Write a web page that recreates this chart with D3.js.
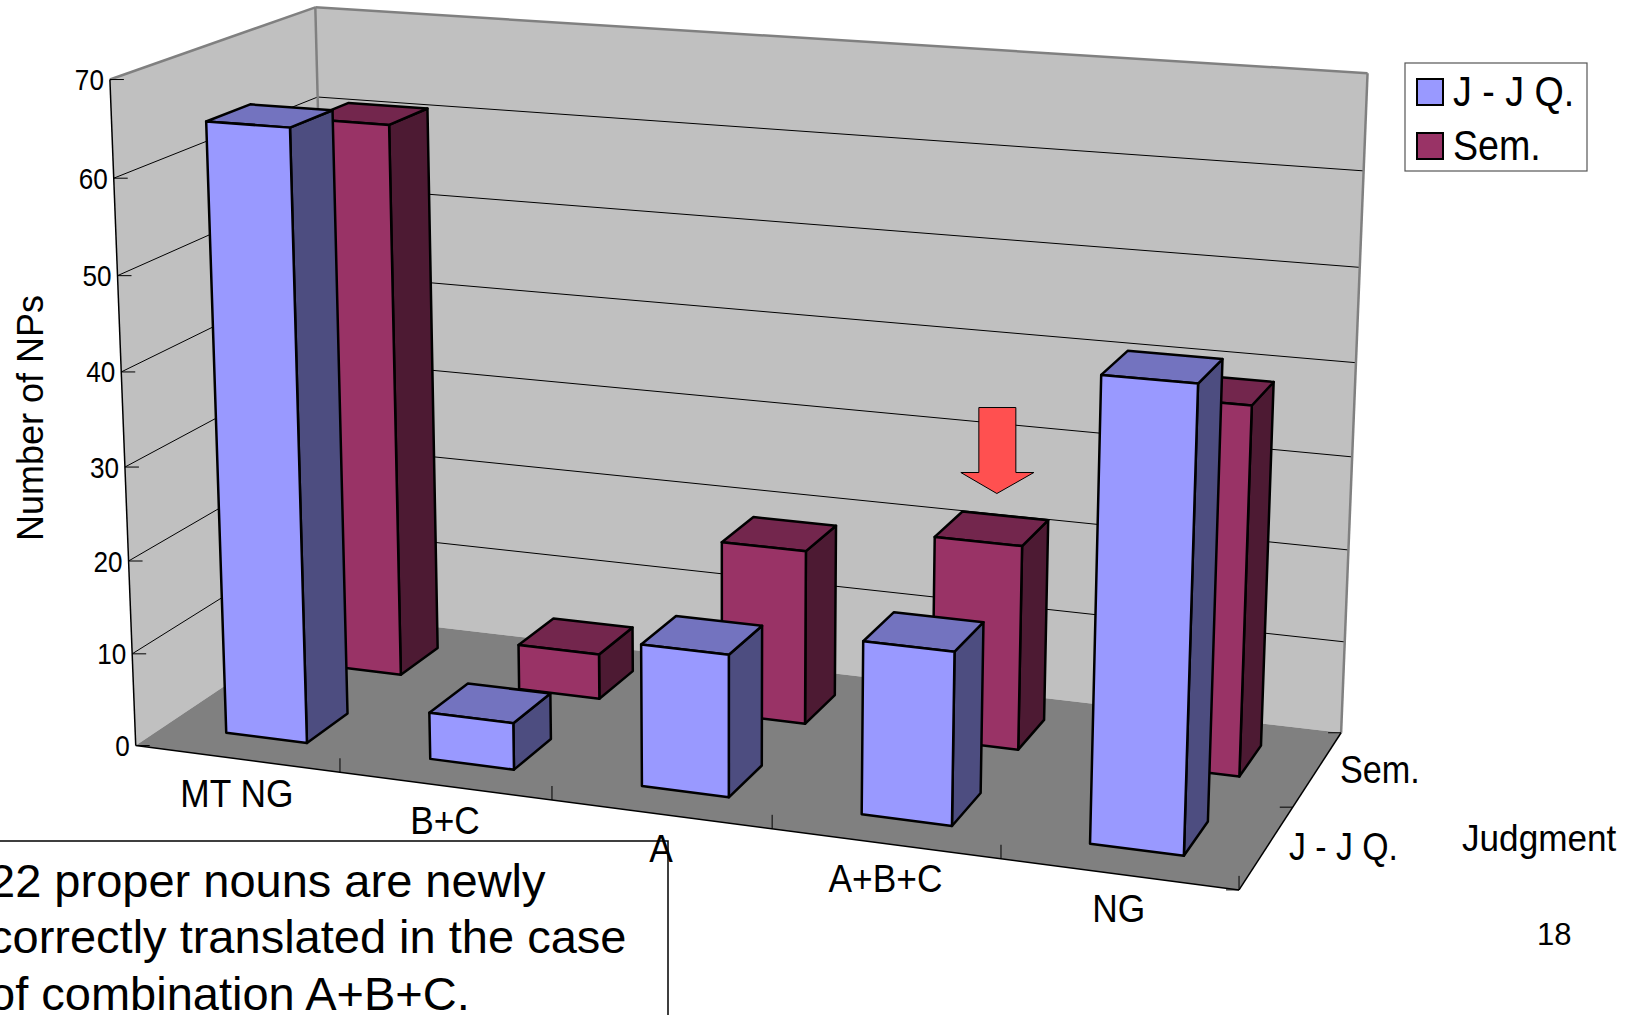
<!DOCTYPE html>
<html>
<head>
<meta charset="utf-8">
<script src="https://cdn.jsdelivr.net/npm/d3@7"></script>
<style>
  html, body { margin: 0; padding: 0; background: #fff; overflow: hidden; }
  text { font-family: "Liberation Sans", Arial, sans-serif; fill: #000; }
</style>
</head>
<body>
<div id="chart"></div>
<script>
// chart data
const categories = ["MT NG", "B+C", "A", "A+B+C", "NG"];
const seriesNames = ["J - J Q.", "Sem."];
const jjqValues = [65, 5, 15, 18, 47];
const semValues = [61, 5, 19, 22, 39];
const valueTicks = [0, 10, 20, 30, 40, 50, 60, 70];
const noteLines = [
  "22 proper nouns are newly",
  "correctly translated in the case",
  "of combination A+B+C."
];

const width = 1638, height = 1015;

const colors = {
  "J - J Q.": { front: "#9999FF", top: "#7373BF", side: "#4D4D80" },
  "Sem.": { front: "#993366", top: "#73264D", side: "#4D1A33" }
};
const seriesValues = { "J - J Q.": jjqValues, "Sem.": semValues };

// scales into the unit box of the plot
const x = d3.scaleBand().domain(categories).range([0, 1]).paddingInner(0.6).paddingOuter(0.3);
const z = d3.scaleBand().domain(seriesNames).range([0, 1]).paddingInner(0.58).paddingOuter(0.29);
const y = d3.scaleLinear().domain([0, 70]).range([0, 1]);

// where the plot box lands on the page: [x, y, z, px, py]
const anchors = [
  [0, 0, 0, 136, 746], [1, 0, 0, 1239, 890], [1, 0, 1, 1342, 733], [0, 0, 1, 330, 614],
  [0, 1, 0, 109, 79], [1, 1, 1, 1368, 73], [0, 1, 1, 316, 8],
  [0, 6 / 7, 0, 113.5, 178], [0, 4 / 7, 0, 122, 372], [1, 6 / 7, 1, 1363, 171],
  [0.2, 0, 0, 340.6, 773], [0.4, 0, 0, 552, 800], [0.6, 0, 0, 772, 828], [0.8, 0, 0, 1001, 859],
  [1, 0, 0.5, 1292, 807]
];

// fit a perspective camera to the anchors (least squares, normal equations)
function fitCamera(pts) {
  const rows = [], rhs = [];
  pts.forEach(([X, Y, Z, px, py]) => {
    const u = px / 1000, v = py / 1000;
    rows.push([X, Y, Z, 1, 0, 0, 0, 0, -u * X, -u * Y, -u * Z]); rhs.push(u);
    rows.push([0, 0, 0, 0, X, Y, Z, 1, -v * X, -v * Y, -v * Z]); rhs.push(v);
  });
  const n = 11;
  const A = d3.range(n).map(i => d3.range(n + 1).map(j =>
    d3.sum(rows, (r, k) => r[i] * (j < n ? r[j] : rhs[k]))));
  for (let c = 0; c < n; c++) {
    let piv = c;
    for (let r = c + 1; r < n; r++) if (Math.abs(A[r][c]) > Math.abs(A[piv][c])) piv = r;
    [A[c], A[piv]] = [A[piv], A[c]];
    for (let r = 0; r < n; r++) {
      if (r === c) continue;
      const f = A[r][c] / A[c][c];
      for (let k = c; k <= n; k++) A[r][k] -= f * A[c][k];
    }
  }
  return A.map((r, i) => r[n] / r[i]);
}
const cam = fitCamera(anchors);
function project(X, Y, Z) {
  const w = cam[8] * X + cam[9] * Y + cam[10] * Z + 1;
  return [
    1000 * (cam[0] * X + cam[1] * Y + cam[2] * Z + cam[3]) / w,
    1000 * (cam[4] * X + cam[5] * Y + cam[6] * Z + cam[7]) / w
  ];
}

const svg = d3.select("#chart").append("svg")
  .attr("width", width).attr("height", height)
  .style("display", "block");

const line = d3.line();
const closed = pts => line(pts) + "Z";

function poly(pts, fill, stroke, sw) {
  svg.append("path").attr("d", closed(pts))
    .attr("fill", fill).attr("stroke", stroke || "none").attr("stroke-width", sw || 0)
    .attr("stroke-linejoin", "round");
}
function seg(a, b, stroke, sw) {
  svg.append("line")
    .attr("x1", a[0]).attr("y1", a[1]).attr("x2", b[0]).attr("y2", b[1])
    .attr("stroke", stroke).attr("stroke-width", sw);
}
// chart text is a bit condensed in the original
function label(str, px, py, size, sx, anchor) {
  svg.append("text")
    .attr("transform", `translate(${px},${py}) scale(${sx},1)`)
    .attr("text-anchor", anchor || "start")
    .attr("font-size", size)
    .text(str);
}

// walls and floor
poly([project(0, 0, 0), project(0, 0, 1), project(0, 1, 1), project(0, 1, 0)], "#C0C0C0");
poly([project(0, 0, 1), project(1, 0, 1), project(1, 1, 1), project(0, 1, 1)], "#C0C0C0");
poly([project(0, 0, 0), project(1, 0, 0), project(1, 0, 1), project(0, 0, 1)], "#808080");

// gridlines
valueTicks.slice(1, -1).forEach(v => {
  seg(project(0, y(v), 0), project(0, y(v), 1), "#000", 1);
  seg(project(0, y(v), 1), project(1, y(v), 1), "#000", 1);
});

// wall edges
seg(project(0, 1, 0), project(0, 1, 1), "#808080", 2.5);
seg(project(0, 1, 1), project(1, 1, 1), "#808080", 2.5);
seg(project(1, 1, 1), project(1, 0, 1), "#808080", 2.5);
seg(project(0, 1, 1), project(0, 0, 1), "#808080", 2.5);

// axis lines and ticks
seg(project(0, 1, 0), project(0, 0, 0), "#000", 1.5);
seg(project(0, 0, 0), project(1, 0, 0), "#000", 1.5);
seg(project(1, 0, 0), project(1, 0, 1), "#000", 1.5);
valueTicks.forEach(v => {
  const p = project(0, y(v), 0);
  seg(p, [p[0] + 14, p[1]], "#000", 1);
  label(v, p[0] - 6, p[1] + 10.5, 30, 0.87, "end");
});
d3.range(categories.length + 1).forEach(i => {
  const p = project(i / categories.length, 0, 0);
  if (i > 0) seg(p, [p[0], p[1] - 14], "#000", 1);
});
d3.range(seriesNames.length + 1).forEach(i => {
  const p = project(1, 0, i / seriesNames.length);
  seg(p, [p[0] - 13, p[1]], "#000", 1);
});

// bars, back series first so the front one covers it
seriesNames.slice().reverse().forEach(name => {
  const c = colors[name];
  seriesValues[name].forEach((v, i) => {
    const x0 = x(categories[i]), x1 = x0 + x.bandwidth();
    const z0 = z(name), z1 = z0 + z.bandwidth();
    const h = y(v);
    poly([project(x1, 0, z0), project(x1, 0, z1), project(x1, h, z1), project(x1, h, z0)], c.side, "#000", 2.5);
    poly([project(x0, h, z0), project(x1, h, z0), project(x1, h, z1), project(x0, h, z1)], c.top, "#000", 2.5);
    poly([project(x0, 0, z0), project(x1, 0, z0), project(x1, h, z0), project(x0, h, z0)], c.front, "#000", 2.5);
  });
});

// note box, cut by the page edge
svg.append("path").attr("d", "M-5,841H668V1020H-5Z")
  .attr("fill", "#fff").attr("stroke", "#000").attr("stroke-width", 1.5);
noteLines.forEach((t, i) => label(t, -11, 896.5 + i * 56.6, 47, 1));

// category labels follow the front edge
categories.forEach((c, i) => {
  const p = project((i + 0.5) / categories.length, 0, 0);
  label(c, p[0], p[1] + 48, 38, 0.93, "middle");
});

// depth labels and axis titles
label("Sem.", 1340, 783, 38, 0.9);
label("J - J Q.", 1289, 860, 38, 0.89);
label("Judgment", 1462, 851, 37, 0.95);
label("18", 1537, 945, 31, 1);
svg.append("text")
  .attr("transform", "translate(43,418) rotate(-90)")
  .attr("text-anchor", "middle")
  .attr("font-size", 36)
  .text("Number of NPs");

// arrow above the A+B+C Sem. bar
const target = project(
  x("A+B+C") + x.bandwidth() / 2, y(semValues[3]), z("Sem.") + z.bandwidth() / 2);
const tip = [target[0] + 5, target[1] - 35];
poly([
  [tip[0] - 18, tip[1] - 86], [tip[0] + 19, tip[1] - 86], [tip[0] + 19, tip[1] - 21],
  [tip[0] + 37, tip[1] - 21], tip, [tip[0] - 36, tip[1] - 21], [tip[0] - 18, tip[1] - 21]
], "#FF5050", "#000", 1);

// legend
svg.append("rect").attr("x", 1405).attr("y", 63).attr("width", 182).attr("height", 108)
  .attr("fill", "#fff").attr("stroke", "#555").attr("stroke-width", 1.2);
seriesNames.forEach((name, i) => {
  svg.append("rect").attr("x", 1417).attr("y", 79 + i * 54).attr("width", 26).attr("height", 26)
    .attr("fill", colors[name].front).attr("stroke", "#000").attr("stroke-width", 2);
  label(name, 1453, 106 + i * 54, 43, 0.875);
});
</script>
</body>
</html>
